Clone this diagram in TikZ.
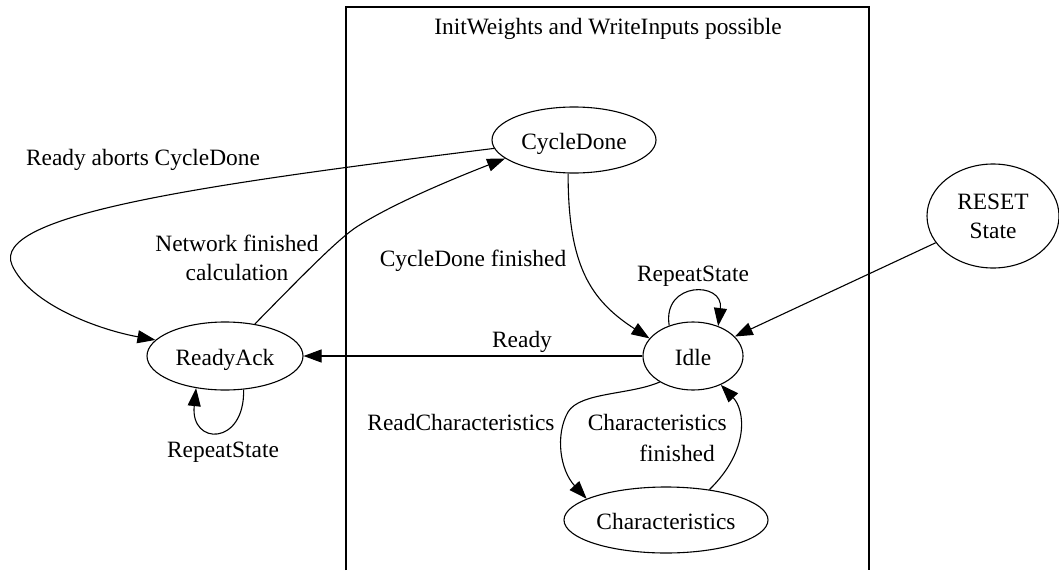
\documentclass[tikz,border=0pt]{standalone}
\usepackage{fontspec}
\setmainfont{Liberation Serif}
\usetikzlibrary{arrows.meta,shapes.geometric}
\begin{document}
\begin{tikzpicture}[x=1pt,y=-1pt,
  every node/.style={font=\fontsize{23.4}{29}\selectfont, inner sep=0pt},
  state/.style={draw, ellipse, line width=1.1pt, text height=19pt, text depth=0pt},
  multistate/.style={draw, ellipse, line width=1.1pt, align=center},
  lbl/.style={anchor=base},
  trans/.style={line width=1.1pt, -{Triangle[length=18pt,width=13pt]}},
  cluster/.style={line width=1.3pt}
]
\useasboundingbox (0,0) rectangle (1059,570);

% cluster frame and its title
\draw[cluster] (346,570) -- (346,7) -- (869,7) -- (869,570);
\node[lbl] (title) at (608,34) {InitWeights and WriteInputs possible};

% states
\node[state, minimum width=164pt, minimum height=66pt] (cd) at (574,140) {CycleDone};
\node[state, minimum width=100pt, minimum height=68pt] (idle) at (693,356) {Idle};
\node[state, minimum width=156pt, minimum height=68pt] (ra) at (225,356) {ReadyAck};
\node[multistate, minimum width=132pt, minimum height=104pt] (reset) at (993,216) {RESET\\State};
\node[state, minimum width=204pt, minimum height=66pt] (char) at (666,520) {Characteristics};

% transitions
\draw[trans] (cd.186) .. controls (200,185) and (-10,215) .. (12,265)
                      .. controls (30,305) and (100,330) .. (ra.167);
\draw[trans] (ra.47) .. controls (300,278) and (335,242) .. (355,228)
                     .. controls (390,205) and (450,180) .. (cd.195);
\draw[trans] (cd.260) .. controls (568,265) and (590,300) .. (idle.158);
\draw[trans] (idle) -- (ra);
\draw[trans] (idle.128) .. controls (662,281) and (724,281) .. (idle.50);
\draw[trans] (ra.299) .. controls (245,446) and (190,446) .. (ra.228);
\draw[trans] (idle.218) .. controls (630,395) and (580,392) .. (568,412)
                        .. controls (555,435) and (560,470) .. (char.165);
\draw[trans] (char.35) .. controls (750,450) and (745,410) .. (idle.314);
\draw[trans] (reset) -- (idle);

% transition labels
\node[lbl] (lrac) at (143,165) {Ready aborts CycleDone};
\node[align=center] (lnf) at (237,258) {Network finished\\calculation};
\node[lbl] (lcdf) at (473,266) {CycleDone finished};
\node[lbl] (lrdy) at (522,347) {Ready};
\node[lbl] (lrs1) at (693,281) {RepeatState};
\node[lbl] (lrs2) at (223,457) {RepeatState};
\node[lbl] (lrch) at (461,430) {ReadCharacteristics};
\node[align=right, anchor=east, font=\fontsize{23.4}{31}\selectfont] (lchf) at (727,438) {Characteristics\\finished\hspace*{12pt}};
\end{tikzpicture}
\end{document}
